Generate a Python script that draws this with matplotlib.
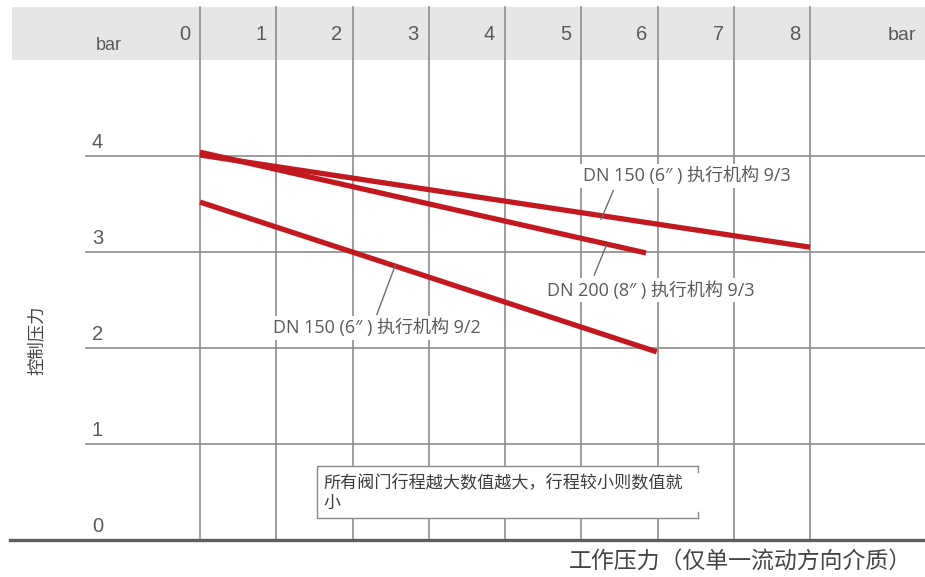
import matplotlib
matplotlib.use("Agg")
import matplotlib.pyplot as plt
from matplotlib.patches import Rectangle

# data
x_ticks = [0, 1, 2, 3, 4, 5, 6, 7, 8]
y_ticks = [0, 1, 2, 3, 4]

series = {
    "DN 150 (6″ ) 执行机构 9/3": ([0, 8], [4.01, 3.05]),
    "DN 200 (8″ ) 执行机构 9/3": ([0, 5.85], [4.04, 2.99]),
    "DN 150 (6″ ) 执行机构 9/2": ([0, 5.99], [3.52, 1.96]),
}
# label anchor (left, centre) and pointer (from, to) in data units
label_pos = {
    "DN 150 (6″ ) 执行机构 9/3": ((5.02, 3.79), (5.42, 3.64), (5.26, 3.34)),
    "DN 200 (8″ ) 执行机构 9/3": ((4.55, 2.60), (5.17, 2.76), (5.33, 3.07)),
    "DN 150 (6″ ) 执行机构 9/2": ((0.96, 2.21), (2.32, 2.35), (2.56, 2.86)),
}
note = "所有阀门行程越大数值越大，行程较小则数值就\n小"
x_title = "工作压力（仅单一流动方向介质）"
y_title = "控制压力"

W, H = 925, 577
X0, XU = 200, 76.25   # pixel of x=0, pixels per bar
Y0, YU = 540, 96      # pixel of y=0, pixels per bar

RED = "#c1191f"
GRID = "#8c8c8c"
TXT = "#5a5a5a"
cjk = ["Open Sans", "Noto Sans CJK SC", "DejaVu Sans"]

fig = plt.figure(figsize=(W / 100, H / 100), dpi=100)
ax = fig.add_axes([0, 0, 1, 1])
ax.set_xlim((0 - X0) / XU, (W - X0) / XU)
ax.set_ylim((Y0 - H) / YU, Y0 / YU)
ax.axis("off")

px = lambda p: (p - X0) / XU
py = lambda p: (Y0 - p) / YU

# header band
ax.add_patch(Rectangle((px(12), py(60)), px(W) - px(12), py(7) - py(60),
                       facecolor="#e6e6e8", edgecolor="none", zorder=0))

# grid
for xv in x_ticks:
    ax.plot([xv, xv], [0, py(7)], color=GRID, lw=1.2, zorder=1)
    ax.text(xv - 0.13, py(35), str(xv), ha="right", va="center",
            fontsize=14.5, color=TXT, family="Liberation Sans")
for yv in y_ticks[1:]:
    ax.plot([px(86), px(W)], [yv, yv], color=GRID, lw=1.2, zorder=1)
for yv in y_ticks:
    ax.text(px(92), yv + 0.04, str(yv), ha="left", va="bottom",
            fontsize=14.5, color=TXT, family="Liberation Sans")
ax.plot([px(10), px(W)], [0, 0], color="#5f5f5f", lw=2.4, zorder=2)

ax.text(px(96), py(45), "bar", ha="left", va="center", fontsize=13,
        color=TXT, family="Liberation Sans")
ax.text(px(916), py(35), "bar", ha="right", va="center", fontsize=14,
        color=TXT, family="Liberation Sans")

# curves
for name, (xs, ys) in series.items():
    ax.plot(xs, ys, color=RED, lw=3.8, solid_capstyle="butt", zorder=4)
    (tx, ty), p0, p1 = label_pos[name]
    ax.text(tx, ty, name, ha="left", va="center", fontsize=13, color=TXT,
            family=cjk, zorder=3,
            bbox=dict(facecolor="white", edgecolor="none", pad=2))
    ax.plot([p0[0], p1[0]], [p0[1], p1[1]], color="#6e6e6e", lw=1, zorder=5)

# note box
bx0, bx1, by0, by1 = px(317), px(698), py(518), py(466)
ax.add_patch(Rectangle((bx0, by0), bx1 - bx0, by1 - by0, facecolor="white",
                       edgecolor="none", zorder=3))
ax.plot([bx1, bx0, bx0, bx1], [by1, by1, by0, by0], color="#8a8a8a", lw=1, zorder=4)
ax.plot([bx1, bx1], [by1, py(472)], color="#8a8a8a", lw=1, zorder=4)
ax.plot([bx1, bx1], [by0, py(512)], color="#8a8a8a", lw=1, zorder=4)
ax.text(px(324), py(474), note, ha="left", va="top", fontsize=12.3,
        color="#3c3c3c", family=cjk, linespacing=1.45, zorder=5)

# axis titles
ax.text(px(912), py(562), x_title, ha="right", va="center", fontsize=16.5,
        color="#444444", family=cjk)
ax.text(px(37), py(340), y_title, ha="center", va="center", fontsize=12.5,
        rotation=90, color="#444444", family=cjk)

fig.savefig("out.png", dpi=100)
